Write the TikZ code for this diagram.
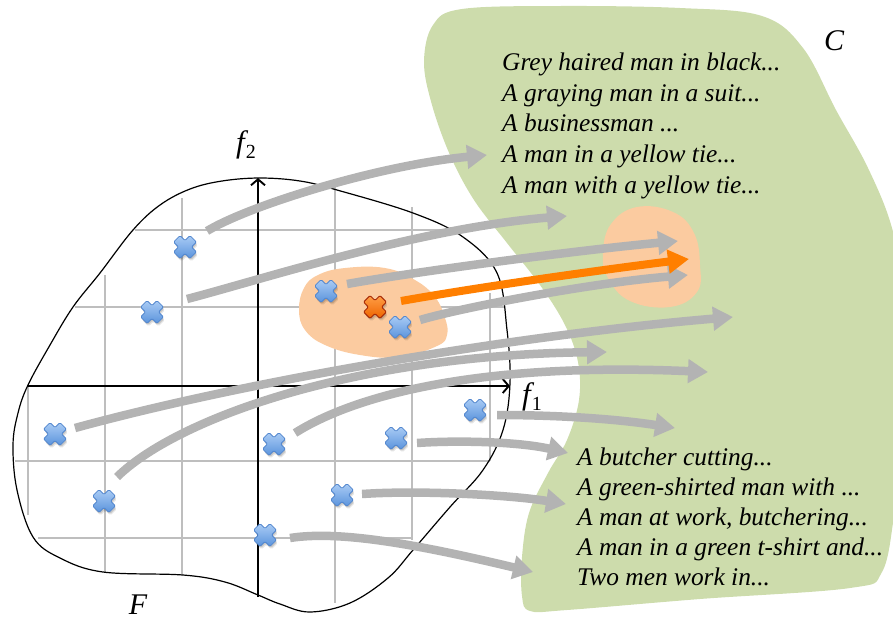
\documentclass[tikz,border=0pt]{standalone}
\usepackage{fontspec}
\setmainfont{Liberation Serif}
\usetikzlibrary{arrows.meta,calc}

\definecolor{regiongreen}{HTML}{CDDCAC}
\definecolor{peach}{HTML}{FBCBA0}
\definecolor{flowgray}{HTML}{B3B3B3}
\definecolor{gridgray}{HTML}{BEBEBE}
\definecolor{hotorange}{HTML}{FF7F00}
\definecolor{xbluetop}{HTML}{AACCF5}
\definecolor{xbluebot}{HTML}{5A93DC}
\definecolor{xblueedge}{HTML}{5488CF}
\definecolor{xorangetop}{HTML}{FF9E45}
\definecolor{xorangebot}{HTML}{EE6400}
\definecolor{xorangeedge}{HTML}{A82C08}

% outline of a diagonal cross, centred on the origin
\newcommand{\crossoutline}{(0,6.5) -- (-4.95,11.45) -- (-11.45,4.95) -- (-6.5,0)
  -- (-11.45,-4.95) -- (-4.95,-11.45) -- (0,-6.5) -- (4.95,-11.45)
  -- (11.45,-4.95) -- (6.5,0) -- (11.45,4.95) -- (4.95,11.45) -- cycle}

% axis name: italic f with a lowered upright index
\newcommand{\featname}[1]{{\itshape f}\kern1pt\raisebox{-6pt}{\fontsize{20}{20}\selectfont #1}}

\tikzset{
  crossshadow/.style={fill=black, rounded corners=1.5pt},
  bluecross/.pic={
    \fill[crossshadow, opacity=0.10, shift={(1.5,3)}] \crossoutline;
    \fill[crossshadow, opacity=0.14, shift={(0.8,1.8)}] \crossoutline;
    \shadedraw[top color=xbluetop, bottom color=xbluebot, draw=xblueedge,
      line width=0.8pt, rounded corners=1.2pt] \crossoutline;
  },
  orangecross/.pic={
    \fill[crossshadow, opacity=0.10, shift={(1.5,3)}] \crossoutline;
    \fill[crossshadow, opacity=0.14, shift={(0.8,1.8)}] \crossoutline;
    \shadedraw[top color=xorangetop, bottom color=xorangebot, draw=xorangeedge,
      line width=1pt, rounded corners=1.2pt] \crossoutline;
  },
  flow/.style={draw=flowgray, line width=8.5pt,
    -{Triangle[length=20pt,width=23pt]}},
  hotflow/.style={draw=hotorange, line width=8pt,
    -{Triangle[length=21pt,width=23pt]}},
  gridline/.style={draw=gridgray, line width=1.4pt},
  axis/.style={draw=black, line width=1.4pt,
    -{Straight Barb[length=6pt,width=14pt,line width=1.9pt]}},
  caption/.style={font=\itshape\fontsize{25.4}{30}\selectfont, anchor=base west, inner sep=0pt},
  setlabel/.style={font=\itshape\fontsize{30}{30}\selectfont, anchor=base, inner sep=0pt},
  axlabel/.style={font=\fontsize{31}{31}\selectfont, anchor=base west, inner sep=0pt},
}

\begin{document}
\begin{tikzpicture}[x=1pt,y=-1pt]
\useasboundingbox (0,0) rectangle (893,619);

% caption space C
\fill[regiongreen] plot[smooth cycle, tension=0.6] coordinates {
  (424,62) (433,25) (462,9) (560,6) (680,8) (762,16) (803,48) (836,110)
  (868,168) (892,228) (905,300) (907,430) (895,510) (882,572) (850,588)
  (700,599) (567,610) (530,611) (522,596) (522,557) (529,513) (548,473)
  (567,440) (579,400) (578,362) (565,325) (540,285) (507,243) (474,200)
  (450,155) (432,105)};

% neighbourhood of the target caption
\fill[peach] plot[smooth cycle, tension=0.7] coordinates {
  (603,253) (611,224) (637,207) (673,212) (694,233) (700,265) (697,292)
  (670,307) (630,301) (608,278)};

% feature grid
\draw[gridline] (28,386) -- (28,515);
\draw[gridline] (105,275) -- (105,572);
\draw[gridline] (182,198) -- (182,575);
\draw[gridline] (335,187) -- (335,603);
\draw[gridline] (412,207) -- (412,540);
\draw[gridline] (490,293) -- (490,461);
\draw[gridline] (135,230) -- (470,230);
\draw[gridline] (75,307) -- (505,307);
\draw[gridline] (15,461) -- (490,461);
\draw[gridline] (38,538) -- (412,538);

% neighbourhood of the query point
\fill[peach] plot[smooth cycle, tension=0.7] coordinates {
  (299,310) (304,288) (318,275) (345,268) (385,268) (415,280) (435,297)
  (445,318) (447,335) (437,346) (400,357) (360,355) (325,345) (305,330)};

% feature space F
\draw[black, line width=1.2pt] plot[smooth cycle, tension=0.6] coordinates {
  (260,178) (300,181) (337,190) (413,213) (463,237) (497,273) (507,330)
  (510,383) (503,430) (483,470) (450,507) (413,550) (388,578) (350,603)
  (310,612) (280,604) (258,595) (225,582) (183,575) (103,572) (60,558)
  (33,537) (17,490) (13,445) (18,413) (28,385) (50,345) (73,307) (100,273)
  (133,230) (160,205) (190,189) (222,181)};

% axes
\coordinate (ybot) at (258,597);
\coordinate (ytop) at (258,178);
\coordinate (xleft) at (28,386);
\coordinate (xright) at (510,386);
\draw[axis] (ybot) -- (ytop);
\draw[axis] (xleft) -- (xright);
\node[axlabel] (lf2) at (236,152) {\featname{2}};
\node[axlabel] (lf1) at (522,404) {\featname{1}};

% set labels
\node[setlabel] (lC) at (834,50) {C};
\node[setlabel] (lF) at (138,614) {F};

% points in feature space
\coordinate (p1) at (185,247);
\coordinate (p2) at (152,312);
\coordinate (p3) at (326,291);
\coordinate (p4) at (400,327);
\coordinate (po) at (375,307);
\coordinate (p6) at (55,434);
\coordinate (p7) at (104,501);
\coordinate (p8) at (274,444);
\coordinate (p9) at (396,438);
\coordinate (p10) at (475,410);
\coordinate (p11) at (342,495);
\coordinate (p12) at (265,535);

% start and end points of the mappings
\coordinate (s1) at (207,231);  \coordinate (e1) at (487,155);
\coordinate (s2) at (187,299);  \coordinate (e2) at (567,216);
\coordinate (s3) at (347,284);  \coordinate (e3) at (678,241);
\coordinate (so) at (401,301);  \coordinate (eo) at (689,259);
\coordinate (s4) at (420,320);  \coordinate (e4) at (688,275);
\coordinate (s6) at (75,428);   \coordinate (e6) at (733,317);
\coordinate (s7) at (117,477);  \coordinate (e7) at (607,352);
\coordinate (s8) at (295,433);  \coordinate (e8) at (708,372);
\coordinate (s10) at (497,415); \coordinate (e10) at (675,428);
\coordinate (s9) at (417,443);  \coordinate (e9) at (568,453);
\coordinate (s11) at (362,494); \coordinate (e11) at (566,504);
\coordinate (s12) at (290,538); \coordinate (e12) at (533,572);

% mappings from F to C
\draw[flow] (s1) .. controls (250,205) and (380,165) .. (e1);
\draw[flow] (s2) .. controls (260,280) and (420,228) .. (e2);
\draw[flow] (s3) .. controls (420,271) and (580,250) .. (e3);
\draw[flow] (s4) .. controls (460,308) and (590,283) .. (e4);
\draw[flow] (s6) .. controls (250,380) and (520,335) .. (e6);
\draw[flow] (s7) .. controls (175,420) and (350,355) .. (e7);
\draw[flow] (s8) .. controls (355,395) and (480,362) .. (e8);
\draw[flow] (s10) .. controls (550,415) and (610,418) .. (e10);
\draw[flow] (s9) .. controls (460,440) and (520,442) .. (e9);
\draw[flow] (s11) .. controls (420,490) and (510,495) .. (e11);
\draw[flow] (s12) .. controls (340,530) and (420,545) .. (e12);
\draw[hotflow] (so) .. controls (480,287) and (600,270) .. (eo);

% point markers
\foreach \p in {p1,p2,p3,p4,p6,p7,p8,p9,p10,p11,p12}
  \pic at (\p) {bluecross};
\pic at (po) {orangecross};

% captions
\node[caption] (t1) at (502,70)  {Grey haired man in black...};
\node[caption] (t2) at (502,101) {A graying man in a suit...};
\node[caption] (t3) at (502,131) {A businessman ...};
\node[caption] (t4) at (502,162) {A man in a yellow tie...};
\node[caption] (t5) at (502,193) {A man with a yellow tie...};

\node[caption] (b1) at (577,465) {A butcher cutting...};
\node[caption] (b2) at (577,495) {A green-shirted man with ...};
\node[caption] (b3) at (577,525) {A man at work, butchering...};
\node[caption] (b4) at (577,555) {A man in a green t-shirt and...};
\node[caption] (b5) at (577,585) {Two men work in...};
\end{tikzpicture}
\end{document}
